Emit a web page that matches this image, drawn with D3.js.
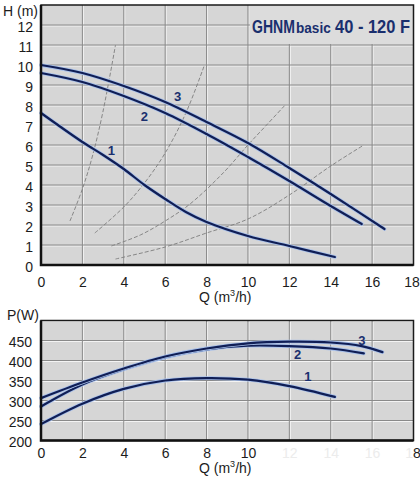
<!DOCTYPE html>
<html>
<head>
<meta charset="utf-8">
<script src="https://cdn.jsdelivr.net/npm/d3@7"></script>
<style>
  body { margin: 0; background: #fff; }
  svg { display: block; font-family: "Liberation Sans", Arial, sans-serif; }
</style>
</head>
<body>
<div id="chart"></div>
<script>
// tick labels
const qTicks = [0, 2, 4, 6, 8, 10, 12, 14, 16, 18];
const hTicks = [0, 1, 2, 3, 4, 5, 6, 7, 8, 9, 10, 11, 12];
const pTicks = [200, 250, 300, 350, 400, 450];

// head curves, speeds 1..3  (Q m3/h, H m)
const head1Q = [0, 2, 3, 4, 5, 6, 7, 8, 10, 12, 14.2];
const head1H = [7.6, 6.15, 5.5, 4.8, 4.0, 3.3, 2.65, 2.15, 1.45, 0.95, 0.4];
const head2Q = [0, 2, 4, 6, 8, 10, 12, 14, 15.5];
const head2H = [9.6, 9.15, 8.45, 7.6, 6.55, 5.4, 4.2, 2.95, 2.05];
const head3Q = [0, 2, 4, 6, 8, 10, 12, 14, 16.6];
const head3H = [10.0, 9.6, 8.95, 8.15, 7.15, 6.1, 4.85, 3.55, 1.8];

// system curves (thin dashed)
const sysAQ = [1.4, 2.0, 2.5, 3.0, 3.6];
const sysAH = [2.2, 3.8, 5.5, 7.7, 11.0];
const sysBQ = [2.6, 4.0, 5.0, 6.0, 7.0, 7.9];
const sysBH = [1.6, 2.9, 4.1, 5.6, 7.6, 10.0];
const sysCQ = [3.4, 4.8, 6.0, 7.2, 8.8, 10.0, 10.9, 11.8];
const sysCH = [0.95, 1.5, 2.2, 3.05, 4.6, 6.0, 7.0, 8.0];
const sysDQ = [3.6, 6.0, 8.0, 10.0, 12.0, 14.0, 15.6];
const sysDH = [0.3, 0.9, 1.6, 2.3, 3.5, 4.95, 6.0];

// power curves (Q m3/h, P W)
const pow1Q = [0, 2, 4, 6, 8, 10, 12, 14.2];
const pow1P = [241, 292, 329, 350, 356, 352, 336, 309];
const pow2Q = [0, 2, 4, 6, 8, 10, 12, 14, 15.6];
const pow2P = [285, 340, 378, 408, 428, 437, 436, 430, 418];
const pow3Q = [0, 2, 4, 6, 8, 10, 12, 14, 15.5, 16.5];
const pow3P = [306, 345, 380, 410, 430, 443, 447, 445, 436, 421];

// curve number labels
const headLabels = ["1", "2", "3"];
const headLabelQ = [3.4, 5.0, 6.6];
const headLabelH = [5.75, 7.45, 8.45];
const powLabels = ["1", "2", "3"];
const powLabelQ = [12.9, 12.4, 15.5];
const powLabelP = [361, 415, 451];

// title pieces
const titleParts = ["GHNM", "basic", "40 - 120 F"];

const width = 420, height = 478;
const navy = "#101e55";
const halo = "#a8c0ea";
const plotBg = "#d6d6d6";
const gridCol = "#8a8a8a";
const textCol = "#1c1c1c";

const svg = d3.select("#chart").append("svg")
    .attr("width", width)
    .attr("height", height)
    .attr("viewBox", [0, 0, width, height]);

function zip(qs, vs) {
  return qs.map((q, i) => ({ q: q, v: vs[i] }));
}

function drawGrid(g, x, y, xt, yt) {
  const [x0, x1] = x.range();
  const [y0, y1] = y.range();
  g.append("rect")
      .attr("x", x0).attr("y", y1)
      .attr("width", x1 - x0).attr("height", y0 - y1)
      .attr("fill", plotBg);
  // white highlight beside each grid line, then the grey line
  g.selectAll(".vh").data(xt.slice(1, -1)).join("line")
      .attr("x1", d => x(d) + 1).attr("x2", d => x(d) + 1)
      .attr("y1", y1).attr("y2", y0)
      .attr("stroke", "#f4f4f4").attr("stroke-width", 1);
  g.selectAll(".hh").data(yt.slice(1)).join("line")
      .attr("x1", x0).attr("x2", x1)
      .attr("y1", d => y(d) + 1).attr("y2", d => y(d) + 1)
      .attr("stroke", "#f4f4f4").attr("stroke-width", 1);
  g.selectAll(".vg").data(xt.slice(1, -1)).join("line")
      .attr("x1", d => x(d)).attr("x2", d => x(d))
      .attr("y1", y1).attr("y2", y0)
      .attr("stroke", gridCol).attr("stroke-width", 1);
  g.selectAll(".hg").data(yt.slice(1)).join("line")
      .attr("x1", x0).attr("x2", x1)
      .attr("y1", d => y(d)).attr("y2", d => y(d))
      .attr("stroke", gridCol).attr("stroke-width", 1);
}

function drawFrame(g, x, y) {
  const [x0, x1] = x.range();
  const [y0, y1] = y.range();
  g.append("rect")
      .attr("x", x0).attr("y", y1)
      .attr("width", x1 - x0).attr("height", y0 - y1)
      .attr("fill", "none").attr("stroke", "#1a1a1a").attr("stroke-width", 1.5);
  g.append("path")
      .attr("d", `M${x0},${y1}V${y0}H${x1}`)
      .attr("fill", "none").attr("stroke", "#111").attr("stroke-width", 2.5);
}

function drawCurve(g, line, pts) {
  g.append("path").datum(pts)
      .attr("d", line).attr("fill", "none")
      .attr("stroke", halo).attr("stroke-width", 3.8)
      .attr("stroke-linecap", "round");
  g.append("path").datum(pts)
      .attr("d", line).attr("fill", "none")
      .attr("stroke", navy).attr("stroke-width", 2.2)
      .attr("stroke-linecap", "round");
}

function styleAxis(g) {
  g.select(".domain").remove();
  g.selectAll("text")
      .attr("font-size", 14)
      .attr("fill", textCol)
      .attr("font-family", "Liberation Sans, Arial, sans-serif");
}

function qLabel(g, yPos) {
  const ql = g.append("text").attr("x", 199).attr("y", yPos)
      .attr("font-size", 14).attr("fill", textCol);
  ql.append("tspan").text("Q (m");
  ql.append("tspan").attr("font-size", 9).attr("dy", -6).text("3");
  ql.append("tspan").attr("dy", 6).text("/h)");
}

function drawHeadChart() {
  const x = d3.scaleLinear().domain([0, 18]).range([41, 413.5]);
  const y = d3.scaleLinear().domain([0, 13]).range([265, 5]);
  const g = svg.append("g");

  drawGrid(g, x, y, qTicks, hTicks);

  // title box (grid hidden behind it)
  g.append("rect")
      .attr("x", x(10) + 2).attr("y", y(13))
      .attr("width", x(18) - x(10) - 2).attr("height", y(11) - y(13) - 1)
      .attr("fill", "#dcdcdc");
  // the title is squeezed sideways in the original
  const tX = [252, 296, 335];
  const tScale = [0.78, 0.97, 0.915];
  const tSize = [18, 14, 18];
  g.selectAll(".title").data(titleParts).join("text")
      .attr("transform", (d, i) => `translate(${tX[i]},33) scale(${tScale[i]},1)`)
      .attr("fill", "#1a2f6e")
      .attr("font-weight", "bold")
      .attr("font-size", (d, i) => tSize[i])
      .text(d => d);

  // system curves
  const sysLine = d3.line().x(d => x(d.q)).y(d => y(d.v)).curve(d3.curveCatmullRom.alpha(0.5));
  [zip(sysAQ, sysAH), zip(sysBQ, sysBH), zip(sysCQ, sysCH), zip(sysDQ, sysDH)].forEach(pts => {
    g.append("path").datum(pts)
        .attr("d", sysLine).attr("fill", "none")
        .attr("stroke", "#7d7d7d").attr("stroke-width", 0.9)
        .attr("stroke-dasharray", "4,2");
  });

  const line = d3.line().x(d => x(d.q)).y(d => y(d.v)).curve(d3.curveCatmullRom.alpha(0.5));
  drawCurve(g, line, zip(head1Q, head1H));
  drawCurve(g, line, zip(head2Q, head2H));
  drawCurve(g, line, zip(head3Q, head3H));

  g.selectAll(".lbl").data(headLabels).join("text")
      .attr("x", (d, i) => x(headLabelQ[i]))
      .attr("y", (d, i) => y(headLabelH[i]))
      .attr("dy", "0.35em")
      .attr("text-anchor", "middle")
      .attr("font-size", 13).attr("font-weight", "bold")
      .attr("fill", "#1a2f6e")
      .text(d => d);

  drawFrame(g, x, y);

  g.append("g")
      .attr("transform", `translate(0,${y(0)})`)
      .call(d3.axisBottom(x).tickValues(qTicks).tickSize(0).tickPadding(12))
      .call(styleAxis)
      .call(a => a.selectAll("text").filter(d => d === 18).attr("dx", -2));
  g.append("g")
      .attr("transform", `translate(${x(0)},0)`)
      .call(d3.axisLeft(y).tickValues(hTicks).tickSize(0).tickPadding(8))
      .call(styleAxis)
      .call(a => a.selectAll("text").attr("dy", "0.45em"));

  g.append("text").attr("x", 3).attr("y", 16)
      .attr("font-size", 14).attr("fill", textCol).text("H (m)");
  qLabel(g, 302);
}

function drawPowerChart() {
  const x = d3.scaleLinear().domain([0, 18]).range([41, 413.5]);
  const y = d3.scaleLinear().domain([200, 500]).range([440.5, 320.5]);
  const g = svg.append("g");

  drawGrid(g, x, y, qTicks, pTicks.concat([500]));

  const line = d3.line().x(d => x(d.q)).y(d => y(d.v)).curve(d3.curveCatmullRom.alpha(0.5));
  drawCurve(g, line, zip(pow1Q, pow1P));
  drawCurve(g, line, zip(pow2Q, pow2P));
  drawCurve(g, line, zip(pow3Q, pow3P));

  g.selectAll(".lbl").data(powLabels).join("text")
      .attr("x", (d, i) => x(powLabelQ[i]))
      .attr("y", (d, i) => y(powLabelP[i]))
      .attr("dy", "0.35em")
      .attr("text-anchor", "middle")
      .attr("font-size", 13).attr("font-weight", "bold")
      .attr("fill", "#1a2f6e")
      .text(d => d);

  drawFrame(g, x, y);

  g.append("g")
      .attr("transform", `translate(0,${y(200)})`)
      .call(d3.axisBottom(x).tickValues(qTicks).tickSize(0).tickPadding(8))
      .call(styleAxis)
      .call(a => a.selectAll("text")
          .attr("fill", d => (d > 10 && d < 18) ? "#ececec" : textCol)
          .filter(d => d === 18)
          .attr("dx", -1)
          .text(null)
          .call(t => {
            t.append("tspan").attr("fill", "#ececec").text("1");
            t.append("tspan").text("8");
          }));
  g.append("g")
      .attr("transform", `translate(${x(0)},0)`)
      .call(d3.axisLeft(y).tickValues(pTicks).tickSize(0).tickPadding(9))
      .call(styleAxis)
      .call(a => a.selectAll("text").attr("dy", "0.4em"));

  g.append("text").attr("x", 7).attr("y", 320)
      .attr("font-size", 14).attr("fill", textCol).text("P(W)");
  qLabel(g, 473);
}

drawHeadChart();
drawPowerChart();
</script>
</body>
</html>
